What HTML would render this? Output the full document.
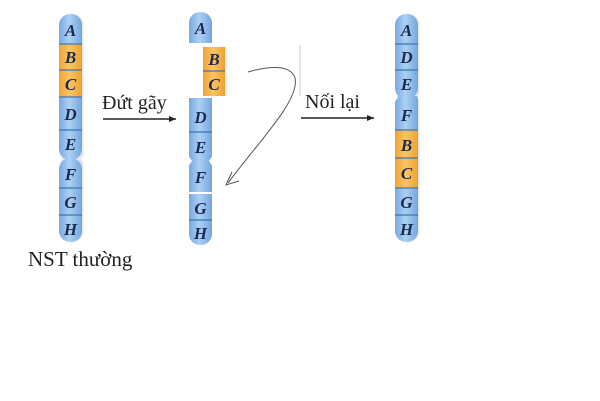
<!DOCTYPE html>
<html><head><meta charset="utf-8"><style>
html,body{margin:0;padding:0;background:#fff;width:600px;height:401px;overflow:hidden}
svg text{font-family:"Liberation Serif",serif}
.l{font-style:italic;font-weight:bold;font-size:17px;fill:#1b2a4e;text-anchor:middle}
.bl{stroke:#3f74b8;stroke-width:1.2}
</style></head><body>
<svg width="600" height="401" viewBox="0 0 600 401" xmlns="http://www.w3.org/2000/svg">
<defs>
<linearGradient id="b" x1="0" x2="1" y1="0" y2="0">
<stop offset="0" stop-color="#78a9e2"/><stop offset="0.45" stop-color="#acd0f3"/><stop offset="1" stop-color="#74a5de"/></linearGradient>
<linearGradient id="o" x1="0" x2="1" y1="0" y2="0">
<stop offset="0" stop-color="#efa32e"/><stop offset="0.45" stop-color="#fac466"/><stop offset="1" stop-color="#eea22e"/></linearGradient>
<marker id="ah" markerWidth="8" markerHeight="8" refX="7" refY="4" orient="auto" markerUnits="userSpaceOnUse"><path d="M0,1 L7,4 L0,7 Z" fill="#222"/></marker>
</defs>

<!-- Chromosome 1 -->
<rect x="60.5" y="14" width="23" height="228" rx="11" fill="#e6e6e6"/>
<rect x="59" y="14" width="23" height="146" rx="11" fill="url(#b)"/>
<rect x="59" y="44" width="23" height="53" fill="url(#o)"/>
<rect x="59" y="158" width="23" height="84" rx="11" fill="url(#b)"/>
<path d="M58,153 L62,159 L58,165 Z M85,153 L81,159 L85,165 Z" fill="#fff"/>
<g class="bl"><line x1="59" x2="82" y1="44" y2="44"/><line x1="59" x2="82" y1="70" y2="70"/><line x1="59" x2="82" y1="97" y2="97"/><line x1="59" x2="82" y1="130" y2="130"/><line x1="59" x2="82" y1="188" y2="188"/><line x1="59" x2="82" y1="215" y2="215"/></g>
<text class="l" x="70.5" y="36">A</text><text class="l" x="70.5" y="63">B</text><text class="l" x="70.5" y="90">C</text><text class="l" x="70.5" y="120">D</text><text class="l" x="70.5" y="150">E</text><text class="l" x="70.5" y="180">F</text><text class="l" x="70.5" y="208">G</text><text class="l" x="70.5" y="235">H</text>
<text x="28" y="266" font-size="21" fill="#222">NST thường</text>

<!-- arrow 1 -->
<text x="102" y="109" font-size="20" fill="#222">Đứt gãy</text>
<line x1="103" y1="119" x2="176" y2="119" stroke="#222" stroke-width="1.5" marker-end="url(#ah)"/>

<!-- Chromosome 2 -->
<rect x="189" y="12" width="23" height="31" rx="11" fill="url(#b)"/>
<rect x="189" y="26" width="23" height="17" fill="url(#b)"/>
<rect x="204.5" y="47" width="22" height="49" fill="#e6e6e6"/>
<rect x="203" y="47" width="22" height="49" fill="url(#o)"/>
<line class="bl" x1="203" x2="225" y1="71" y2="71"/>
<rect x="189" y="98" width="23" height="94" fill="url(#b)"/>
<path d="M188,155 L192,161 L188,167 Z M213,155 L209,161 L213,167 Z" fill="#fff"/>
<rect x="189" y="194" width="23" height="51" rx="11" fill="url(#b)"/>
<rect x="189" y="194" width="23" height="20" fill="url(#b)"/>
<g class="bl"><line x1="189" x2="212" y1="132" y2="132"/><line x1="189" x2="212" y1="220" y2="220"/></g>
<text class="l" x="200.5" y="34">A</text><text class="l" x="214" y="65">B</text><text class="l" x="214" y="90">C</text><text class="l" x="200.5" y="123">D</text><text class="l" x="200.5" y="153">E</text><text class="l" x="200.5" y="183">F</text><text class="l" x="200.5" y="214">G</text><text class="l" x="200.5" y="239">H</text>

<!-- curved arrow -->
<path d="M248,72 C262,68 290,62 295,78 C300,100 260,140 228,183" fill="none" stroke="#555" stroke-width="1"/>
<path d="M232,172 L226,185 L239,181" fill="none" stroke="#555" stroke-width="1"/>
<line x1="300" y1="45" x2="300" y2="96" stroke="#ccc" stroke-width="1"/>

<!-- arrow 2 -->
<text x="305" y="108" font-size="20" fill="#222">Nối lại</text>
<line x1="301" y1="118" x2="374" y2="118" stroke="#222" stroke-width="1.5" marker-end="url(#ah)"/>

<!-- Chromosome 3 -->
<rect x="396.5" y="14" width="23" height="228" rx="11" fill="#e6e6e6"/>
<rect x="395" y="14" width="23" height="85" rx="11" fill="url(#b)"/>
<rect x="395" y="96" width="23" height="146" rx="11" fill="url(#b)"/>
<rect x="395" y="96" width="23" height="40" fill="url(#b)"/>
<rect x="395" y="130" width="23" height="58" fill="url(#o)"/>
<path d="M394,91 L398,97 L394,103 Z M421,91 L417,97 L421,103 Z" fill="#fff"/>
<g class="bl"><line x1="395" x2="418" y1="44" y2="44"/><line x1="395" x2="418" y1="70" y2="70"/><line x1="395" x2="418" y1="130" y2="130"/><line x1="395" x2="418" y1="158" y2="158"/><line x1="395" x2="418" y1="188" y2="188"/><line x1="395" x2="418" y1="215" y2="215"/></g>
<text class="l" x="406.5" y="36">A</text><text class="l" x="406.5" y="63">D</text><text class="l" x="406.5" y="90">E</text><text class="l" x="406.5" y="121">F</text><text class="l" x="406.5" y="151">B</text><text class="l" x="406.5" y="179">C</text><text class="l" x="406.5" y="208">G</text><text class="l" x="406.5" y="235">H</text>
</svg>
</body></html>
